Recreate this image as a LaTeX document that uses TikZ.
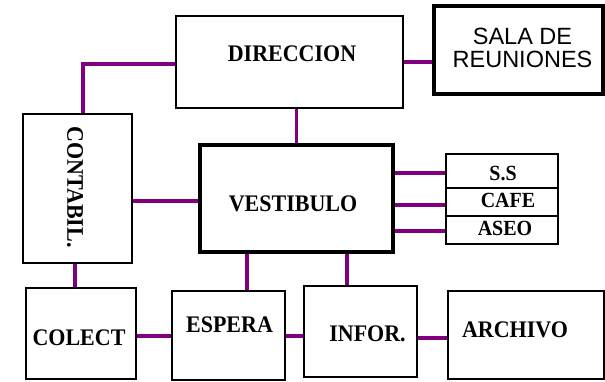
\documentclass[tikz,border=0pt]{standalone}
\usepackage{fontspec}
\usepackage{graphicx}
\setmainfont{Liberation Serif}
\newfontfamily\sansf{Liberation Sans}
\definecolor{conn}{HTML}{800080}
\newcommand\talltext[1]{\scalebox{1}[1.08]{#1}}
\tikzset{
  box/.style={draw=black, line width=1.4pt, rectangle, inner sep=0pt},
  thickbox/.style={draw=black, line width=3.6pt, rectangle, inner sep=0pt},
  lbl/.style={font=\fontsize{22}{23}\selectfont\bfseries},
  smalllbl/.style={font=\fontsize{20}{21}\selectfont\bfseries},
  link/.style={draw=conn, line width=3.3pt}
}
\begin{document}
\begin{tikzpicture}[x=1pt,y=-1pt]
\useasboundingbox (0,0) rectangle (605,381);
% nodes
\node[box, minimum width=227pt, minimum height=92pt,
  label={[lbl, xshift=2.5pt, yshift=8pt]center:\talltext{DIRECCION}}] (dir) at (289.5,62) {};
\node[thickbox, minimum width=169pt, minimum height=88pt,
  label={[font=\sansf\fontsize{23.5}{23}\selectfont, align=center, xshift=4pt, yshift=2.2pt]center:SALA DE\\REUNIONES}] (sala) at (518.5,50) {};
\node[box, minimum width=109pt, minimum height=149pt,
  label={[lbl, rotate=-90, xshift=-1.5pt, yshift=-2.5pt]center:\talltext{CONTABIL.}}] (cont) at (77.5,188.5) {};
\node[thickbox, minimum width=193pt, minimum height=107pt,
  label={[lbl, xshift=-3.5pt, yshift=-5pt]center:\talltext{VESTIBULO}}] (vest) at (296.5,198.5) {};
\node[box, minimum width=112pt, minimum height=34pt,
  label={[smalllbl, xshift=1pt, yshift=-2pt]center:\talltext{S.S}}] (ss) at (502,171) {};
\node[box, minimum width=112pt, minimum height=28pt,
  label={[smalllbl, xshift=6pt, yshift=1.5pt]center:\talltext{CAFE}}] (cafe) at (502,202) {};
\node[box, minimum width=112pt, minimum height=28pt,
  label={[smalllbl, xshift=3pt, yshift=2pt]center:\talltext{ASEO}}] (aseo) at (502,230) {};
\node[box, minimum width=110pt, minimum height=91pt,
  label={[lbl, xshift=-2pt, yshift=-4.5pt]center:\talltext{COLECT}}] (colect) at (81,333.5) {};
\node[box, minimum width=113pt, minimum height=89pt,
  label={[lbl, xshift=1pt, yshift=11pt]center:\talltext{ESPERA}}] (esp) at (228.5,335.5) {};
\node[box, minimum width=113pt, minimum height=91pt,
  label={[lbl, xshift=7pt, yshift=-2.5pt]center:\talltext{INFOR.}}] (inf) at (360.5,331.5) {};
\node[box, minimum width=156pt, minimum height=88pt,
  label={[lbl, xshift=-11pt, yshift=5pt]center:\talltext{ARCHIVO}}] (arch) at (526,335) {};
% connectors
\draw[link] (dir.east) -- (dir.east -| sala.west);
\draw[link] ([yshift=-2pt]dir.west) -| ([xshift=5.5pt]cont.north);
\draw[link] (vest.north) -- (vest.north |- dir.south);
\draw[link] ([yshift=-2.5pt]vest.west) -- ([yshift=-2.5pt]vest.west -| cont.east);
\draw[link] ([yshift=-2pt]ss.west) -- ([yshift=-2pt]ss.west -| vest.east);
\draw[link] ([yshift=-3pt]cafe.west) -- ([yshift=-3pt]cafe.west -| vest.east);
\draw[link] ([yshift=-1pt]aseo.west) -- ([yshift=-1pt]aseo.west -| vest.east);
\draw[link] ([xshift=-2.5pt]cont.south) -- ([xshift=-2.5pt]cont.south |- colect.north);
\draw[link] ([xshift=-49.5pt]vest.south) -- ([xshift=-49.5pt]vest.south |- esp.north);
\draw[link] ([xshift=50.5pt]vest.south) -- ([xshift=50.5pt]vest.south |- inf.north);
\draw[link] ([yshift=-2.5pt]colect.east) -- ([yshift=-2.5pt]colect.east -| esp.west);
\draw[link] ([yshift=-4.5pt]inf.west) -- ([yshift=-4.5pt]inf.west -| esp.east);
\draw[link] ([yshift=-6.5pt]inf.east) -- ([yshift=-6.5pt]inf.east -| arch.west);
\end{tikzpicture}
\end{document}
